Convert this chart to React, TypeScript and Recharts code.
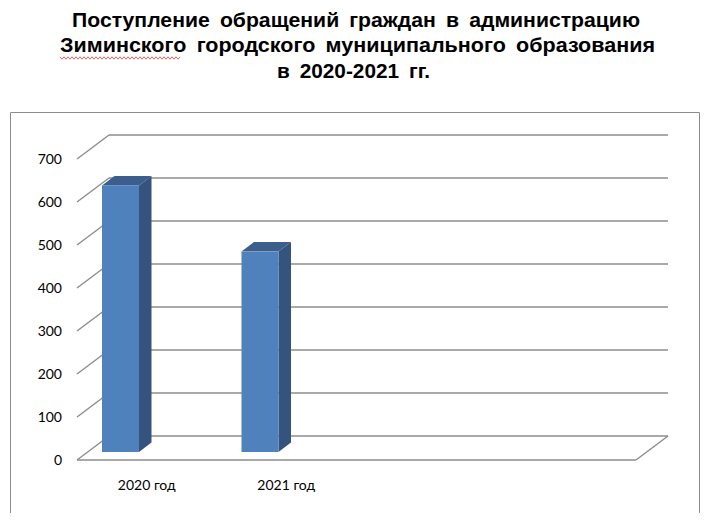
import { BarChart, Bar, XAxis, YAxis, CartesianGrid } from 'recharts'

const categories = ['2020 год', '2021 год']
const appeals = [620, 466]
const yTicks = [0, 100, 200, 300, 400, 500, 600, 700]
const titleLines = [
  'Поступление обращений граждан в администрацию',
  'Зиминского городского муниципального образования',
  'в 2020-2021 гг.',
]

const W = 712
const H = 531
const PLOT_LEFT = 77
const PLOT_TOP = 159
const PLOT_RIGHT = 636
const PLOT_BOTTOM = 460
// depth of the 3D floor/back wall
const DX = 32
const DY = 24
// bar box placement inside the depth
const BAR_SHIFT_X = -26
const BAR_LIFT = 8
const BAR_DX = 12.5
const BAR_DY = 9.5

const GRID = '#8c8c8c'
const AXIS_FONT = 'Lato, "Noto Sans", sans-serif'
const TITLE_FONT = '"Liberation Sans", Arial, sans-serif'

// title line placement: left x, baseline y, target width
const titleBoxes = [
  { x: 72, y: 27, w: 568 },
  { x: 60, y: 52, w: 595 },
  { x: 277, y: 78, w: 153 },
]

const data = categories.map((name, i) => ({ name, value: appeals[i] }))

function gridLine(props: any) {
  const { x1, x2, y1, index } = props
  const back = y1 - DY
  const floor = Math.abs(y1 - PLOT_BOTTOM) < 0.5
  return (
    <g key={`grid-${index}`} stroke={GRID} strokeWidth={1.4} fill="none">
      <line x1={x1} y1={y1} x2={x1 + DX} y2={back} />
      <line x1={x1 + DX} y1={back} x2={x2 + DX} y2={back} />
      {floor && <line x1={x1} y1={y1} x2={x2} y2={y1} />}
      {floor && <line x1={x2} y1={y1} x2={x2 + DX} y2={back} />}
    </g>
  )
}

function Box3D(props: any) {
  const { x, y, width, height } = props
  if (!height || height <= 0) return null
  const fx = x + BAR_SHIFT_X
  const fy = y - BAR_LIFT
  const r = fx + width
  const b = fy + height
  return (
    <g>
      <polygon
        points={`${r},${fy} ${r + BAR_DX},${fy - BAR_DY} ${r + BAR_DX},${b - BAR_DY} ${r},${b}`}
        fill="#34547e"
      />
      <polygon
        points={`${fx},${fy} ${fx + BAR_DX},${fy - BAR_DY} ${r + BAR_DX},${fy - BAR_DY} ${r},${fy}`}
        fill="#3b5e8c"
      />
      <rect x={fx} y={fy} width={width} height={height} fill="#4f81bd" />
    </g>
  )
}

function squiggle(x0: number, x1: number, y: number) {
  const pts: string[] = []
  let up = true
  for (let x = x0; x <= x1; x += 2) {
    pts.push(`${x},${up ? y - 1.2 : y + 1.2}`)
    up = !up
  }
  return pts.join(' ')
}

export default function App() {
  return (
    <div style={{ position: 'absolute', left: 0, top: 0, width: W, height: H, background: '#fff' }}>
      <svg width={W} height={H} style={{ position: 'absolute', left: 0, top: 0 }}>
        {/* заголовок */}
        <g fontFamily={TITLE_FONT} fontWeight="bold" fontSize={20} fill="#000">
          {titleLines.map((line, i) => (
            <text
              key={i}
              x={titleBoxes[i].x}
              y={titleBoxes[i].y}
              textLength={titleBoxes[i].w}
              lengthAdjust="spacingAndGlyphs"
              style={{ wordSpacing: '4px' }}
            >
              {line}
            </text>
          ))}
        </g>
        <polyline points={squiggle(60, 180, 58)} fill="none" stroke="#d23c3c" strokeWidth={0.8} />
        {/* рамка */}
        <g stroke="#8c8c8c" strokeWidth={1}>
          <line x1={10.5} y1={112.5} x2={699.5} y2={112.5} />
          <line x1={10.5} y1={112.5} x2={10.5} y2={513} />
          <line x1={699.5} y1={112.5} x2={699.5} y2={513} />
        </g>
      </svg>
      <div style={{ position: 'absolute', left: 0, top: 0 }}>
        <BarChart
          width={W}
          height={H}
          data={data}
          barSize={37}
          margin={{ top: PLOT_TOP, right: W - PLOT_RIGHT, bottom: H - PLOT_BOTTOM - 30, left: 0 }}
        >
          <CartesianGrid vertical={false} horizontal={gridLine} />
          <XAxis
            dataKey="name"
            height={30}
            padding={{ left: 0, right: 280 }}
            axisLine={false}
            tickLine={false}
            interval={0}
            tick={(p: any) => (
              <text
                x={p.x}
                y={PLOT_BOTTOM + 30}
                textAnchor="middle"
                fontFamily={AXIS_FONT}
                fontSize={14}
                fill="#000"
              >
                {p.payload.value}
              </text>
            )}
          />
          <YAxis
            width={PLOT_LEFT}
            domain={[0, 700]}
            ticks={yTicks}
            axisLine={false}
            tickLine={false}
            interval={0}
            tick={(p: any) => (
              <text
                x={PLOT_LEFT - 15}
                y={p.y}
                dy={5}
                textAnchor="end"
                fontFamily={AXIS_FONT}
                fontSize={14}
                fill="#000"
              >
                {p.payload.value}
              </text>
            )}
          />
          <Bar dataKey="value" shape={Box3D} isAnimationActive={false} />
        </BarChart>
      </div>
    </div>
  )
}
